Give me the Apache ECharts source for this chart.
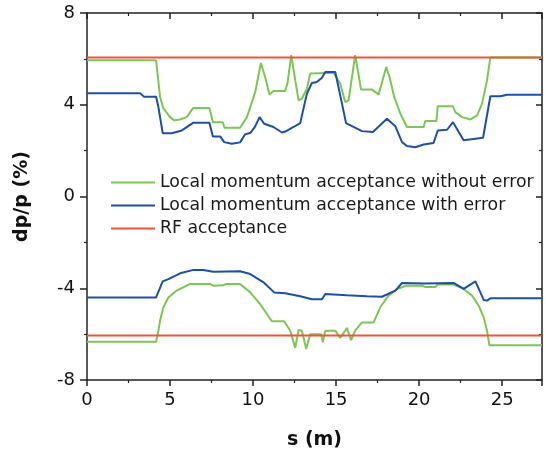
<!DOCTYPE html>
<html>
<head>
<meta charset="utf-8">
<script src="https://cdn.jsdelivr.net/npm/echarts@6/dist/echarts.min.js"></script>
<style>
  html, body { margin: 0; padding: 0; background: #fff; }
  #chart { width: 546px; height: 458px; }
</style>
</head>
<body>
<div id="chart"></div>
<script>
// Momentum acceptance along the ring section, s in metres, dp/p in percent.

// Without error, positive side
const sPosNoErr = [0, 4.16, 4.4, 4.6, 5.0, 5.25, 5.6, 6.0, 6.4, 7.37, 7.58, 8.18, 8.28, 9.22, 9.63, 10.13, 10.47, 10.73, 10.99, 11.23, 11.93, 12.07, 12.3, 12.54, 12.74, 12.94, 13.24, 13.44, 13.54, 14.85, 15.25, 15.55, 15.75, 16.15, 16.41, 16.5, 17.16, 17.56, 18.02, 18.22, 18.5, 18.87, 19.27, 20.27, 20.37, 21.04, 21.12, 22.04, 22.18, 22.59, 23.09, 23.49, 23.79, 24.09, 24.29, 27.4];
const dpPosNoErr = [5.94, 5.94, 4.34, 3.84, 3.46, 3.32, 3.36, 3.46, 3.86, 3.86, 3.24, 3.24, 3.0, 3.0, 3.46, 4.55, 5.82, 5.21, 4.45, 4.6, 4.6, 4.92, 6.16, 5.07, 4.19, 4.27, 4.7, 5.36, 5.39, 5.39, 4.92, 4.12, 4.19, 6.16, 5.07, 4.66, 4.66, 4.45, 5.65, 5.21, 4.34, 3.61, 3.03, 3.03, 3.29, 3.29, 3.93, 3.93, 3.68, 3.46, 3.36, 3.54, 4.05, 5.07, 6.06, 6.06];

// Without error, negative side
const sNegNoErr = [0, 4.16, 4.3, 4.4, 4.6, 4.9, 5.4, 6.2, 7.4, 7.6, 8.2, 8.4, 9.22, 9.83, 10.43, 10.83, 11.13, 11.87, 12.24, 12.54, 12.74, 12.94, 13.2, 13.44, 14.1, 14.2, 14.35, 14.95, 15.25, 15.65, 15.9, 16.15, 16.56, 17.26, 17.66, 18.16, 18.67, 19.23, 20.17, 20.4, 20.98, 21.1, 22.08, 22.68, 23.19, 23.59, 23.89, 24.09, 24.23, 27.4];
const dpNegNoErr = [-6.33, -6.33, -5.85, -5.41, -4.83, -4.4, -4.1, -3.81, -3.81, -3.89, -3.87, -3.81, -3.81, -4.18, -4.69, -5.12, -5.44, -5.44, -5.85, -6.6, -5.82, -5.85, -6.65, -6.0, -6.0, -6.36, -5.85, -5.85, -6.17, -5.73, -6.26, -5.85, -5.49, -5.49, -4.83, -4.32, -4.03, -3.89, -3.89, -3.95, -3.95, -3.84, -3.84, -4.03, -4.32, -4.76, -5.27, -5.85, -6.48, -6.48];

// With error, positive side
const sPosErr = [0, 3.19, 3.44, 4.16, 4.3, 4.56, 5.1, 5.71, 6.41, 7.37, 7.58, 8.02, 8.26, 8.72, 9.22, 9.52, 9.85, 10.13, 10.39, 10.67, 11.23, 11.74, 11.94, 12.44, 12.84, 13.24, 13.54, 13.84, 14.15, 14.35, 14.95, 15.25, 15.6, 16.56, 17.22, 18.06, 18.57, 18.97, 19.27, 19.77, 20.27, 20.87, 21.12, 21.68, 22.04, 22.68, 23.85, 24.29, 24.9, 25.3, 27.4];
const dpPosErr = [4.5, 4.5, 4.35, 4.35, 3.9, 2.76, 2.76, 2.88, 3.22, 3.22, 2.62, 2.62, 2.37, 2.3, 2.36, 2.71, 2.78, 3.06, 3.46, 3.17, 3.03, 2.79, 2.83, 3.03, 3.2, 4.48, 4.95, 4.99, 5.18, 5.43, 5.43, 4.41, 3.2, 2.85, 2.81, 3.39, 3.06, 2.37, 2.2, 2.15, 2.27, 2.33, 2.88, 2.91, 3.24, 2.45, 2.56, 4.37, 4.37, 4.44, 4.44];

// With error, negative side
const sNegErr = [0, 4.16, 4.56, 4.9, 5.61, 6.41, 7.0, 7.61, 9.22, 9.83, 10.63, 11.27, 11.93, 12.84, 13.54, 14.15, 14.35, 15.65, 16.86, 17.76, 18.57, 18.97, 20.27, 22.08, 22.68, 23.39, 23.89, 24.09, 24.29, 27.4];
const dpNegErr = [-4.4, -4.4, -3.7, -3.6, -3.35, -3.2, -3.2, -3.28, -3.26, -3.38, -3.74, -4.18, -4.22, -4.35, -4.48, -4.48, -4.25, -4.31, -4.35, -4.37, -4.1, -3.77, -3.79, -3.77, -4.03, -3.7, -4.51, -4.54, -4.44, -4.44];

// RF bucket limits
const sRF = [0, 27.4];
const dpRF = 6.06;

const sMax = 27.4;
const xTicks = [0, 5, 10, 15, 20, 25];
const yTicks = [-8, -4, 0, 4, 8];

const NAME_NO_ERR = 'Local momentum acceptance without error';
const NAME_ERR = 'Local momentum acceptance with error';
const NAME_RF = 'RF acceptance';

const GREEN = '#7cc656';
const BLUE = '#1c4fa6';
const RED = '#f0553a';
const AXIS = '#222222';
const FONT = '"DejaVu Sans", "Liberation Sans", Arial, sans-serif';

function pairs(xs, ys) {
  return xs.map((x, i) => [x, Array.isArray(ys) ? ys[i] : ys]);
}

function lineSeries(name, xs, ys, color, z) {
  return {
    name: name,
    type: 'line',
    data: pairs(xs, ys),
    showSymbol: false,
    symbol: 'none',
    xAxisIndex: 0,
    yAxisIndex: 0,
    lineStyle: { color: color, width: 2 },
    itemStyle: { color: color },
    z: z,
    animation: false
  };
}

const chart = echarts.init(document.getElementById('chart'), null, { renderer: 'canvas' });

const axisLineStyle = { show: true, onZero: false, lineStyle: { color: AXIS, width: 1.5 } };
const tickStyle = { color: AXIS, width: 1.5 };
const minorStyle = { color: AXIS, width: 1.2 };

chart.setOption({
  backgroundColor: '#ffffff',
  animation: false,
  grid: { left: 87, right: 4, top: 13, bottom: 78, containLabel: false },
  legend: {
    orient: 'vertical',
    left: 111,
    top: 174,
    padding: 0,
    icon: 'rect',
    itemWidth: 44,
    itemHeight: 2,
    itemGap: 6,
    data: [NAME_NO_ERR, NAME_ERR, NAME_RF],
    selectedMode: false,
    textStyle: { fontFamily: FONT, fontSize: 17.3, color: '#1a1a1a', padding: [0, 0, 0, 0] }
  },
  xAxis: [
    {
      type: 'value', position: 'bottom', min: 0, max: sMax, interval: 5,
      name: 's (m)', nameLocation: 'middle', nameGap: 51,
      nameTextStyle: { fontFamily: FONT, fontSize: 19, fontWeight: 'bold', color: '#111' },
      axisLine: axisLineStyle,
      axisTick: { show: true, inside: false, length: 6, lineStyle: tickStyle },
      minorTick: { show: true, splitNumber: 2, length: 3, lineStyle: minorStyle },
      axisLabel: {
        fontFamily: FONT, fontSize: 18, color: '#111', margin: 11,
        formatter: v => (xTicks.includes(v) ? String(v) : '')
      },
      splitLine: { show: false }
    },
    {
      type: 'value', position: 'top', min: 0, max: sMax, interval: 5,
      axisLine: axisLineStyle,
      axisTick: { show: true, inside: true, length: 6, lineStyle: tickStyle },
      minorTick: { show: true, splitNumber: 2, length: 3, lineStyle: minorStyle },
      axisLabel: { show: false },
      splitLine: { show: false }
    }
  ],
  yAxis: [
    {
      type: 'value', position: 'left', min: -8, max: 8, interval: 4,
      name: 'dp/p (%)', nameLocation: 'middle', nameGap: 55, nameRotate: 90,
      nameTextStyle: { fontFamily: FONT, fontSize: 19, fontWeight: 'bold', color: '#111' },
      axisLine: axisLineStyle,
      axisTick: { show: true, inside: false, length: 7, lineStyle: tickStyle },
      minorTick: { show: true, splitNumber: 2, length: 3, lineStyle: minorStyle },
      axisLabel: {
        fontFamily: FONT, fontSize: 18, color: '#111', margin: 12,
        formatter: v => (yTicks.includes(v) ? String(v) : '')
      },
      splitLine: { show: false }
    },
    {
      type: 'value', position: 'right', min: -8, max: 8, interval: 4,
      axisLine: axisLineStyle,
      axisTick: { show: true, inside: true, length: 6, lineStyle: tickStyle },
      minorTick: { show: true, splitNumber: 2, length: 3, lineStyle: minorStyle },
      axisLabel: { show: false },
      splitLine: { show: false }
    }
  ],
  series: [
    lineSeries(NAME_NO_ERR, sPosNoErr, dpPosNoErr, GREEN, 2),
    lineSeries(NAME_NO_ERR, sNegNoErr, dpNegNoErr, GREEN, 2),
    lineSeries(NAME_ERR, sPosErr, dpPosErr, BLUE, 3),
    lineSeries(NAME_ERR, sNegErr, dpNegErr, BLUE, 3),
    lineSeries(NAME_RF, sRF, dpRF, RED, 4),
    lineSeries(NAME_RF, sRF, -dpRF, RED, 4)
  ]
});
</script>
</body>
</html>
